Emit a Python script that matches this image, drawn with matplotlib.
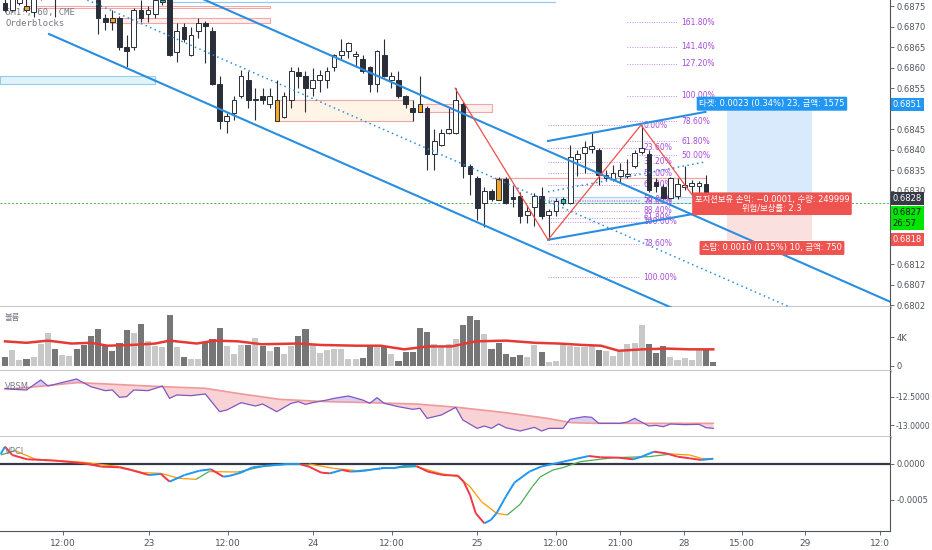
import matplotlib.pyplot as plt
import numpy as np
from matplotlib.collections import LineCollection
from matplotlib.patches import Rectangle

plt.rcParams['font.family'] = ['DejaVu Sans', 'Noto Sans CJK KR']

# ---- 6M1!, 60, CME hourly candles (bar index 0..99) ----
opens = [
    0.68758, 0.68741, 0.68758, 0.68750, 0.68736, 0.68772, 0.68789, 0.68789, 0.68775, 0.68804,
    0.68824, 0.68809, 0.68794, 0.68765, 0.68721, 0.68721, 0.68721, 0.68650, 0.68650, 0.68741,
    0.68731, 0.68731, 0.68760, 0.68770, 0.68638, 0.68699, 0.68631, 0.68689, 0.68709, 0.68689,
    0.68560, 0.68470, 0.68489, 0.68531, 0.68570, 0.68521, 0.68531, 0.68511, 0.68521, 0.68480,
    0.68521, 0.68589, 0.68580, 0.68550, 0.68570, 0.68570, 0.68602, 0.68631, 0.68641, 0.68628,
    0.68621, 0.68602, 0.68560, 0.68631, 0.68570, 0.68570, 0.68531, 0.68502, 0.68511, 0.68502,
    0.68389, 0.68411, 0.68441, 0.68441, 0.68511, 0.68360, 0.68331, 0.68270, 0.68299, 0.68328,
    0.68328, 0.68285, 0.68287, 0.68241, 0.68260, 0.68287, 0.68241, 0.68250, 0.68270, 0.68270,
    0.68377, 0.68392, 0.68402, 0.68399, 0.68331, 0.68328, 0.68336, 0.68336, 0.68360, 0.68394,
    0.68389, 0.68321, 0.68309, 0.68282, 0.68287, 0.68309, 0.68311, 0.68311, 0.68316, 0.68280]
highs = [
    0.68777, 0.68785, 0.68777, 0.68770, 0.68780, 0.68799, 0.68809, 0.68802, 0.68814, 0.68833,
    0.68838, 0.68828, 0.68814, 0.68775, 0.68731, 0.68741, 0.68726, 0.68680, 0.68745, 0.68765,
    0.68750, 0.68775, 0.68772, 0.68780, 0.68709, 0.68709, 0.68699, 0.68721, 0.68714, 0.68699,
    0.68580, 0.68489, 0.68531, 0.68594, 0.68592, 0.68550, 0.68550, 0.68550, 0.68570, 0.68541,
    0.68602, 0.68602, 0.68592, 0.68599, 0.68594, 0.68602, 0.68633, 0.68670, 0.68663, 0.68641,
    0.68631, 0.68604, 0.68643, 0.68670, 0.68589, 0.68592, 0.68533, 0.68521, 0.68580, 0.68506,
    0.68450, 0.68450, 0.68502, 0.68550, 0.68516, 0.68365, 0.68336, 0.68309, 0.68304, 0.68333,
    0.68333, 0.68314, 0.68297, 0.68265, 0.68294, 0.68309, 0.68255, 0.68282, 0.68285, 0.68411,
    0.68399, 0.68421, 0.68441, 0.68404, 0.68350, 0.68363, 0.68367, 0.68377, 0.68399, 0.68460,
    0.68399, 0.68331, 0.68316, 0.68333, 0.68331, 0.68360, 0.68326, 0.68324, 0.68338, 0.68282]
lows = [
    0.68736, 0.68736, 0.68753, 0.68736, 0.68724, 0.68765, 0.68780, 0.68724, 0.68767, 0.68794,
    0.68799, 0.68789, 0.68770, 0.68682, 0.68692, 0.68692, 0.68643, 0.68602, 0.68643, 0.68711,
    0.68711, 0.68721, 0.68753, 0.68628, 0.68614, 0.68663, 0.68628, 0.68672, 0.68611, 0.68558,
    0.68450, 0.68441, 0.68472, 0.68526, 0.68502, 0.68472, 0.68511, 0.68502, 0.68470, 0.68477,
    0.68502, 0.68550, 0.68492, 0.68531, 0.68541, 0.68550, 0.68592, 0.68621, 0.68624, 0.68602,
    0.68587, 0.68541, 0.68541, 0.68577, 0.68550, 0.68526, 0.68502, 0.68470, 0.68492, 0.68350,
    0.68350, 0.68409, 0.68438, 0.68438, 0.68331, 0.68289, 0.68228, 0.68211, 0.68275, 0.68277,
    0.68267, 0.68260, 0.68221, 0.68221, 0.68214, 0.68231, 0.68180, 0.68238, 0.68265, 0.68267,
    0.68336, 0.68343, 0.68392, 0.68314, 0.68324, 0.68324, 0.68321, 0.68331, 0.68355, 0.68389,
    0.68297, 0.68297, 0.68280, 0.68280, 0.68280, 0.68302, 0.68287, 0.68287, 0.68280, 0.68267]
closes = [
    0.68741, 0.68772, 0.68767, 0.68741, 0.68770, 0.68789, 0.68799, 0.68775, 0.68804, 0.68824,
    0.68809, 0.68794, 0.68780, 0.68721, 0.68711, 0.68711, 0.68650, 0.68641, 0.68741, 0.68721,
    0.68741, 0.68765, 0.68765, 0.68631, 0.68689, 0.68670, 0.68680, 0.68709, 0.68702, 0.68560,
    0.68470, 0.68482, 0.68521, 0.68580, 0.68521, 0.68524, 0.68521, 0.68531, 0.68470, 0.68531,
    0.68592, 0.68580, 0.68550, 0.68570, 0.68582, 0.68592, 0.68631, 0.68641, 0.68660, 0.68633,
    0.68592, 0.68560, 0.68641, 0.68580, 0.68580, 0.68531, 0.68511, 0.68492, 0.68492, 0.68389,
    0.68421, 0.68441, 0.68450, 0.68521, 0.68360, 0.68341, 0.68258, 0.68299, 0.68280, 0.68277,
    0.68270, 0.68280, 0.68238, 0.68250, 0.68287, 0.68238, 0.68250, 0.68275, 0.68280, 0.68382,
    0.68389, 0.68406, 0.68409, 0.68338, 0.68338, 0.68343, 0.68350, 0.68341, 0.68392, 0.68404,
    0.68302, 0.68311, 0.68282, 0.68331, 0.68316, 0.68314, 0.68319, 0.68319, 0.68280, 0.68270]
ob_orange = [3, 15, 38, 58, 69]
ob_teal = [22, 78]

# volume in thousands
vol_k = [
    1.3, 2.2, 0.8, 0.9, 1.2, 3.1, 4.5, 2.3, 1.5, 1.4, 2.3, 2.9, 4.1, 5.1, 2.7, 2.1, 3.2, 4.9, 4.6, 5.8,
    3.4, 2.7, 2.6, 7.0, 2.6, 1.2, 0.9, 0.9, 3.2, 3.7, 5.3, 2.7, 1.7, 2.9, 2.9, 3.8, 2.8, 2.1, 2.6, 1.7,
    2.7, 4.1, 5.1, 2.9, 1.8, 2.2, 2.4, 2.4, 1.0, 0.9, 1.1, 2.9, 2.6, 2.6, 1.7, 0.7, 2.0, 2.0, 5.2, 4.7,
    3.1, 2.7, 3.0, 3.7, 5.7, 6.9, 6.4, 4.4, 2.4, 3.2, 1.7, 1.3, 1.5, 1.2, 2.9, 2.0, 0.6, 0.7, 2.9, 2.7,
    2.6, 2.6, 2.7, 2.2, 2.1, 1.4, 2.0, 3.1, 3.2, 5.7, 3.0, 1.8, 2.7, 1.2, 0.8, 1.1, 0.8, 2.3, 2.3, 0.6]
vma_idx = [0, 3, 6, 9.3, 12, 14.3, 17.6, 21, 23, 26.8, 29.3, 32.6, 35.9, 40.9, 44.2, 49.2,
           52.5, 55.8, 59.1, 62.4, 65.8, 70, 74.1, 77.4, 80.8, 83.3, 85.8, 89.1, 92.4, 95.7, 99]
vma_k = [3.4, 3.2, 3.5, 3.1, 3.2, 2.8, 2.9, 3.1, 3.5, 3.1, 3.5, 3.4, 3.0, 3.1, 2.9, 2.8,
         2.8, 2.3, 2.7, 2.7, 3.4, 3.5, 3.2, 3.1, 2.9, 2.8, 2.1, 2.3, 2.4, 2.3, 2.3]

# VBSM
vb_idx = [0, 1, 3, 5, 6, 10, 12, 14, 15, 16, 17, 18, 20, 22, 23, 24, 26, 28, 30, 31, 33, 35, 36,
          38, 40, 41, 42, 43, 45, 46, 48, 50, 51, 52, 53, 55, 57, 58, 59, 61, 63, 64, 66, 67, 68,
          69, 70, 72, 74, 75, 76, 78, 79, 81, 82, 83, 86, 87, 88, 90, 91, 92, 93, 95, 97, 98, 99]
vb_val = [-12.345, -12.363, -12.375, -12.196, -12.304, -12.179, -12.316, -12.387, -12.375, -12.506,
          -12.494, -12.375, -12.387, -12.304, -12.524, -12.464, -12.476, -12.446, -12.762, -12.732,
          -12.601, -12.661, -12.625, -12.762, -12.613, -12.583, -12.631, -12.601, -12.554, -12.524,
          -12.482, -12.554, -12.613, -12.512, -12.613, -12.673, -12.720, -12.702, -12.881, -12.821,
          -12.685, -12.911, -13.060, -13.018, -13.060, -12.982, -13.048, -13.107, -13.042, -13.107,
          -13.060, -13.060, -12.893, -12.851, -12.863, -12.970, -12.970, -12.946, -12.881, -13.018,
          -13.006, -13.030, -12.982, -12.994, -12.988, -13.048, -13.060]
vbs_idx = [0, 3.5, 10.1, 14.3, 20.1, 24.2, 28, 32.5, 38.4, 45, 50.8, 57.5, 63.3, 70, 75.8, 79.1,
           82.4, 90.7, 99]
vbs_val = [-12.363, -12.327, -12.244, -12.268, -12.304, -12.327, -12.345, -12.435, -12.542,
           -12.583, -12.601, -12.625, -12.685, -12.780, -12.881, -12.958, -12.970, -12.970, -12.970]

# VPCI (x 1e-4)
vp_idx = [-0.6, 0.0, 1.0, 3.1, 5.2, 7.6, 11.0, 13.5, 16.0, 17.6, 20.1, 21.8, 23.0, 25.1, 27.2,
          28.8, 30.5, 31.3, 33.0, 34.6, 36.7, 39.2, 41.3, 42.5, 44.2, 45.4, 47.1, 48.3, 50.0, 52.5,
          54.2, 55.8, 57.5, 59.1, 61.2, 63.3, 64.1, 65.0, 65.8, 67.0, 67.9, 68.7, 70.0, 71.2, 73.3,
          74.9, 77.0, 79.1, 81.6, 83.2, 85.7, 87.8, 89.0, 90.7, 92.4, 94.0, 95.7, 97.3, 99.0]
vp_val = [1.39, 2.41, 1.25, 0.65, 0.56, 0.42, 0.09, -0.37, -0.46, -0.83, -1.53, -1.39, -2.45, -1.53,
          -0.93, -0.74, -1.76, -1.67, -1.20, -0.46, -0.23, -0.05, -0.05, -0.37, -1.20, -1.30, -0.83,
          -1.06, -0.97, -0.60, -0.60, -0.28, -0.28, -1.06, -1.53, -1.62, -2.45, -4.31, -6.85, -8.24,
          -7.78, -6.85, -4.54, -2.59, -1.06, -0.37, 0.09, 0.56, 1.11, 0.93, 0.88, 0.65, 1.02, 1.71,
          1.48, 1.02, 0.79, 0.56, 0.74]
sg_idx = [-0.6, 1.4, 4.3, 7.6, 11.0, 16.0, 19.3, 21.8, 24.3, 26.7, 28.5, 32.6, 35.9, 39.2, 42.5,
          45.9, 49.2, 53.3, 57.5, 60.8, 63.3, 65.0, 66.6, 68.7, 70.2, 72.0, 73.7, 74.8, 76.6, 78.0,
          80.4, 85.0, 90.0, 93.2, 95.7, 97.3, 99.0]
sg_val = [1.25, 1.85, 0.65, 0.46, 0.23, -0.37, -1.20, -1.30, -1.99, -2.13, -1.06, -1.11, -0.37,
          0.0, 0.0, -0.60, -0.93, -0.60, -0.37, -1.30, -1.76, -3.15, -5.23, -6.85, -7.08, -5.60,
          -3.15, -1.80, -0.83, -0.50, 0.32, 0.88, 1.02, 1.39, 1.25, 0.79, 0.65]

# drawings
desc_upper = ([27.3, 123.7], [0.68770, 0.68029])
desc_lower = ([6.15, 123.7], [0.68682, 0.67780])
desc_mid = ([11.5, 123.7], [0.68765, 0.67909])
asc_upper = ([75.9, 97.9], [0.68421, 0.68492])
asc_lower = ([75.9, 96.2], [0.68180, 0.68243])
asc_mid = ([75.9, 97.9], [0.68297, 0.68370])
zigzag = ([62.9, 75.9, 88.9, 97.9], [0.68550, 0.68180, 0.68460, 0.68245])
# fib sets: x0, x1, price at 0%, price at 100%, levels, label x
fib_sets = [
    (75.9, 88.8, 0.68460, 0.68224, [0, 23.6, 38.2, 50, 61.8, 78.6, 88.4, 100], 89.2),
    (75.9, 88.8, 0.68467, 0.68089, [50, 61.8, 78.6, 100], 89.2),
    (87.0, 94.1, 0.68241, 0.68531, [50, 61.8, 78.6, 100, 127.2, 141.4, 161.8], 94.5),
]
entry, target, stop = 0.6828, 0.6851, 0.6818
pos_x = (100.9, 112.8)
cur_price = 0.6827
# order blocks: x0, x1, p_lo, p_hi, face, edge
order_blocks = [
    (-0.7, 21.0, 0.68560, 0.68580, '#e0f3f8', '#8fd0e8'),
    (3.1, 37.0, 0.68745, 0.68750, 'none', '#f4a6a6'),
    (14.7, 37.0, 0.68709, 0.68721, '#fdf0ec', '#f4a6a6'),
    (38.0, 57.0, 0.68470, 0.68521, '#fff4e6', '#f4a6a6'),
    (58.0, 68.1, 0.68492, 0.68511, '#fdf0ec', '#f4a6a6'),
    (76.0, 97.0, 0.68270, 0.68285, '#eaf4fc', '#a8d1f3'),
]
ob_lines = [(23.5, 76.9, 0.68760, '#90caf9'), (68.1, 97.9, 0.68331, '#f4a6a6')]

price_ticks = [0.6875, 0.6870, 0.6865, 0.6860, 0.6855, 0.6845, 0.6840, 0.6835, 0.6830,
               0.6812, 0.6807, 0.6802]
x_ticks = [8.1, 20.1, 31.2, 43.1, 54.1, 66.0, 77.0, 86.0, 94.9, 103.0, 111.8, 122.3]
x_labels = ['12:00', '23', '12:00', '24', '12:00', '25', '12:00', '21:00', '28', '15:00', '29', '12:0']


def slope_line(ax, x, y, c_up, c_dn, lw):
    x = np.asarray(x)
    y = np.asarray(y)
    pts = np.column_stack([x, y])
    segs = np.stack([pts[:-1], pts[1:]], axis=1)
    cols = [c_up if b >= a else c_dn for a, b in zip(y[:-1], y[1:])]
    ax.add_collection(LineCollection(segs, colors=cols, linewidths=lw, zorder=3))


def tag(ax, y, text, fc, tc='white'):
    ax.annotate(text, xy=(1.0, y), xycoords=('axes fraction', 'data'), xytext=(2, 0),
                textcoords='offset points', ha='left', va='center', fontsize=6, color=tc,
                linespacing=1.3,
                bbox=dict(boxstyle='square,pad=0.25', fc=fc, ec='none'), annotation_clip=False,
                zorder=10)


def main():
    W, H = 932, 550
    fig = plt.figure(figsize=(W / 100, H / 100), dpi=100)

    def panel(top, bottom):
        return fig.add_axes([0, 1 - bottom / H, 890 / W, (bottom - top) / H])

    ax = panel(0, 307)
    axv = panel(307, 371)
    axb = panel(371, 437)
    axp = panel(437, 531)

    for a in (ax, axv, axb, axp):
        a.set_xlim(-0.7, 123.7)
        a.yaxis.tick_right()
        a.tick_params(axis='y', labelsize=6, colors='#50535e', length=3, width=0.6, pad=1.5)
        a.tick_params(axis='x', length=0, labelbottom=False)
        a.spines['left'].set_visible(False)
        a.spines['top'].set_visible(False)
        a.spines['right'].set_color('#50535e')
        a.spines['right'].set_linewidth(0.8)
        a.spines['bottom'].set_color('#b2b5be')
        a.spines['bottom'].set_linewidth(1.8)

    idx = np.arange(len(opens))
    o = np.array(opens)
    h = np.array(highs)
    l = np.array(lows)
    c = np.array(closes)
    up = c >= o

    # ---- main price panel ----
    ax.set_ylim(0.68016, 0.68765)
    ax.set_yticks(price_ticks)
    ax.set_yticklabels([f'{p:.4f}' for p in price_ticks])

    for x0, x1, p0, p1, fc, ec in order_blocks:
        ax.add_patch(Rectangle((x0, p0), x1 - x0, p1 - p0, fc=fc, ec=ec, lw=0.8, zorder=1))
    for x0, x1, p, col in ob_lines:
        ax.plot([x0, x1], [p, p], color=col, lw=0.9, zorder=1)

    # position tool
    ax.add_patch(Rectangle((pos_x[0], entry), pos_x[1] - pos_x[0], target - entry,
                           fc='#d8eafb', ec='none', zorder=1))
    ax.add_patch(Rectangle((pos_x[0], stop), pos_x[1] - pos_x[0], entry - stop,
                           fc='#fbe0e0', ec='none', zorder=1))

    ax.axhline(cur_price, color='#4caf50', lw=0.7, ls=(0, (2, 2)), zorder=2)

    for x0, x1, p0, p100, levels, lx in fib_sets:
        for lv in levels:
            p = p0 + (p100 - p0) * lv / 100
            ax.plot([x0, x1], [p, p], color='#c28ee8', lw=0.7, ls=(0, (1, 1.5)), zorder=2)
            ax.text(lx, p, f'{lv:.2f}%', color='#a64ad8', fontsize=5.5, va='center',
                    ha='left', zorder=2)

    body_lo = np.minimum(o, c)
    body_h = np.maximum(np.abs(c - o), 0.000015)
    faces = np.where(up, 'white', '#2a2e39').astype(object)
    for i in ob_orange:
        faces[i] = '#f5a623'
    for i in ob_teal:
        faces[i] = '#26c6b0'
    ax.vlines(idx, l, h, color='#2a2e39', lw=0.8, zorder=3)
    ax.bar(idx, body_h, bottom=body_lo, width=0.66, color=list(faces),
           edgecolor='#2a2e39', linewidth=0.7, zorder=4)

    for xs, ys in (desc_upper, desc_lower, asc_upper, asc_lower):
        ax.plot(xs, ys, color='#2a8ee0', lw=1.5, zorder=5)
    for xs, ys in (desc_mid, asc_mid):
        ax.plot(xs, ys, color='#2a8ee0', lw=1.1, ls=(0, (1, 2.2)), zorder=5)
    ax.plot(*zigzag, color='#f0504a', lw=0.9, zorder=5)

    lbl_x = 107.2
    bx = dict(boxstyle='round,pad=0.3,rounding_size=0.15', ec='none')
    ax.text(lbl_x, target + 0.00002, '타겟: 0.0023 (0.34%) 23, 금액: 1575', fontsize=6,
            color='white', ha='center', va='center', zorder=8, bbox={**bx, 'fc': '#2196f3'})
    ax.text(lbl_x, 0.68268, '포지션보유 손익: −0.0001, 수량: 249999\n위험/보상률: 2.3',
            fontsize=6, color='white', ha='center', va='center', linespacing=0.95, zorder=8,
            bbox={**bx, 'fc': '#ef5350'})
    ax.text(lbl_x, 0.68160, '스탑: 0.0010 (0.15%) 10, 금액: 750', fontsize=6,
            color='white', ha='center', va='center', zorder=8, bbox={**bx, 'fc': '#ef5350'})

    ax.text(5 / 890, 1 - 13 / 307, '6M1!, 60, CME', transform=ax.transAxes, fontsize=6.5,
            color='#787b86', family='DejaVu Sans Mono', va='center')
    ax.text(5 / 890, 1 - 24 / 307, 'Orderblocks', transform=ax.transAxes, fontsize=6.5,
            color='#787b86', family='DejaVu Sans Mono', va='center')

    tag(ax, 0.6851, '0.6851', '#2196f3')
    tag(ax, 0.68280, '0.6828', '#363a45')
    tag(ax, 0.68234, '0.6827\n26:57', '#00e600', '#131722')
    tag(ax, 0.6818, '0.6818', '#ef5350')

    # ---- volume ----
    axv.set_ylim(-0.69, 8.14)
    vcols = np.where(up, '#c8c8c8', '#767676')
    axv.bar(idx, vol_k, width=0.85, color=vcols, zorder=2)
    axv.plot(vma_idx, vma_k, color='#e53935', lw=1.8, zorder=3)
    axv.set_yticks([0, 4])
    axv.set_yticklabels(['0', '4K'])
    axv.text(5 / 890, 0.8, '볼륨', transform=axv.transAxes, fontsize=6, color='#787b86',
             family=['Noto Sans CJK KR', 'DejaVu Sans'])

    # ---- VBSM ----
    axb.set_ylim(-13.214, -12.036)
    g = np.linspace(0, 99, 1000)
    pv = np.interp(g, vb_idx, vb_val)
    sv = np.interp(g, vbs_idx, vbs_val)
    axb.fill_between(g, pv, sv, where=pv >= sv, color='#d9cdf3', interpolate=True, lw=0)
    axb.fill_between(g, pv, sv, where=pv < sv, color='#f9d2d6', interpolate=True, lw=0)
    axb.plot(vbs_idx, vbs_val, color='#ef9a9a', lw=1.2, zorder=3)
    axb.plot(vb_idx, vb_val, color='#7e57c2', lw=0.9, zorder=4)
    axb.set_yticks([-12.5, -13.0])
    axb.set_yticklabels(['-12.5000', '-13.0000'])
    axb.tick_params(axis='y', labelsize=5.6, pad=1)
    axb.text(5 / 890, 0.72, 'VBSM', transform=axb.transAxes, fontsize=6, color='#787b86')

    # ---- VPCI ----
    axp.set_ylim(-0.000931, 0.000375)
    axp.axhline(0, color='#363a45', lw=1.6, zorder=2)
    slope_line(axp, sg_idx, np.array(sg_val) * 1e-4, '#4caf50', '#ff9800', 0.9)
    slope_line(axp, vp_idx, np.array(vp_val) * 1e-4, '#2196f3', '#f23645', 1.4)
    axp.set_yticks([0, -0.0005])
    axp.set_yticklabels(['0.0000', '-0.0005'])
    axp.text(5 / 890, 0.82, 'VPCI', transform=axp.transAxes, fontsize=6, color='#787b86')
    axp.spines['bottom'].set_color('#50535e')
    axp.spines['bottom'].set_linewidth(0.8)
    axp.set_xticks(x_ticks)
    axp.set_xticklabels(x_labels)
    axp.tick_params(axis='x', labelbottom=True, length=3, width=0.6, labelsize=6.5,
                    colors='#50535e', pad=3)

    plt.savefig('out.png', dpi=100)
    plt.close()


if __name__ == '__main__':
    main()
